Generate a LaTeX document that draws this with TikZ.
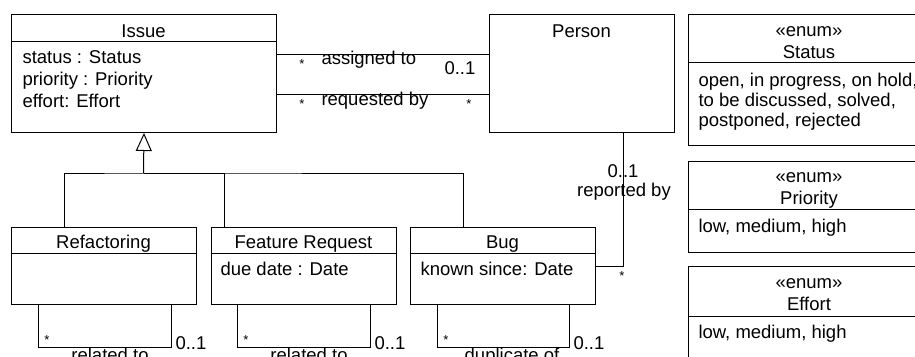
\documentclass[tikz,border=0pt]{standalone}
\usepackage{fontspec}
\setmainfont{Liberation Sans}
\usetikzlibrary{arrows.meta}
\usetikzlibrary{positioning}
\tikzset{
	cls/.style={draw, rectangle, anchor=north west, inner sep=0pt},
	ttl/.style={anchor=base, inner sep=0pt},
	attr/.style={anchor=base west, inner sep=0pt},
	mult/.style={inner sep=0pt, font=\fontsize{13pt}{13pt}\selectfont},
	gen/.style={-{Triangle[open, length=18pt, width=16pt]}}
}

\begin{document}
\begin{tikzpicture}[x=1pt, y=-1pt, line width=1pt, font=\fontsize{18.5pt}{21pt}\selectfont]
		\useasboundingbox (0,0) rectangle (915,356);
		\clip (0,0) rectangle (915,356);
		% classes
		\node[cls, minimum width=265pt, minimum height=118pt] (issue) at (11,14) {};
		\draw (issue.north west) ++(0,27) -- ++(265,0);
		\node[ttl] (issue-t) at (143.5,37) {Issue};
		\node[attr] (issue-a1) at (22,63) {status : Status};
		\node[attr] (issue-a2) at (22,85) {priority : Priority};
		\node[attr] (issue-a3) at (22,107) {effort: Effort};
		\node[cls, minimum width=185pt, minimum height=118pt] (person) at (489,14) {};
		\node[ttl] (person-t) at (581.5,37) {Person};
		\node[cls, minimum width=185pt, minimum height=77pt] (refac) at (11,227) {};
		\draw (refac.north west) ++(0,26) -- ++(185,0);
		\node[ttl] (refac-t) at (103.5,248) {Refactoring};
		\node[cls, minimum width=185pt, minimum height=77pt] (feat) at (211,227) {};
		\draw (feat.north west) ++(0,26) -- ++(185,0);
		\node[ttl] (feat-t) at (303.5,248) {Feature Request};
		\node[attr] (feat-a1) at (220,275) {due date : Date};
		\node[cls, minimum width=185pt, minimum height=77pt] (bug) at (410,227) {};
		\draw (bug.north west) ++(0,26) -- ++(185,0);
		\node[ttl] (bug-t) at (502.5,248) {Bug};
		\node[attr] (bug-a1) at (420,275) {known since: Date};
		% enums
		\node[cls, minimum width=242pt, minimum height=131pt] (status) at (688,14) {};
		\draw (status.north west) ++(0,48) -- ++(242,0);
		\node[ttl] (status-s) at (809,36) {«enum»};
		\node[ttl] (status-t) at (809,58) {Status};
		\node[attr] (status-v1) at (698,86) {open, in progress, on hold,};
		\node[attr] (status-v2) at (698,106) {to be discussed, solved,};
		\node[attr] (status-v3) at (698,126) {postponed, rejected};
		\node[cls, minimum width=242pt, minimum height=91pt] (prio) at (688,161) {};
		\draw (prio.north west) ++(0,48) -- ++(242,0);
		\node[ttl] (prio-s) at (809,182) {«enum»};
		\node[ttl] (prio-t) at (809,204) {Priority};
		\node[attr] (prio-v1) at (698,232) {low, medium, high};
		\node[cls, minimum width=242pt, minimum height=100pt] (effort) at (688,266) {};
		\draw (effort.north west) ++(0,50) -- ++(242,0);
		\node[ttl] (effort-s) at (809,288) {«enum»};
		\node[ttl] (effort-t) at (809,310) {Effort};
		\node[attr] (effort-v1) at (698,338) {low, medium, high};
		% generalization
		\coordinate (genjoin) at (143.5,173);
		\draw[gen] (genjoin) -- (issue.south);
		\draw ([xshift=-39.5pt]refac.north) |- (genjoin) -| ([xshift=-39.5pt]bug.north);
		\draw ([xshift=-79.5pt]feat.north) |- (genjoin);
		% associations
		\draw ([yshift=19pt]issue.east) -- ([yshift=19pt]person.west);
		\node[mult] (asg-m1) at (302,64) {*};
		\node[attr] (asg-l) at (321,64) {assigned to};
		\node[attr] (asg-m2) at (444,74) {0..1};
		\draw ([yshift=-21pt]issue.east) -- ([yshift=-21pt]person.west);
		\node[mult] (req-m1) at (302,104) {*};
		\node[attr] (req-l) at (321,105) {requested by};
		\node[mult] (req-m2) at (469,104) {*};
		\draw ([xshift=41pt]person.south) |- (bug.east);
		\node[ttl] (rep-m1) at (623,177) {0..1};
		\node[ttl] (rep-l) at (624,196) {reported by};
		\node[mult] (rep-m2) at (622,276) {*};
		% self associations
		\draw ([xshift=-65.5pt]refac.south) -- ++(0,42) -| ([xshift=67.5pt]refac.south);
		\node[mult] (rel1-m1) at (47,340) {*};
		\node[attr] (rel1-m2) at (175,349) {0..1};
		\node[ttl] (rel1-l) at (110,361) {related to};
		\draw ([xshift=-66.5pt]feat.south) -- ++(0,42) -| ([xshift=66.5pt]feat.south);
		\node[mult] (rel2-m1) at (246,340) {*};
		\node[attr] (rel2-m2) at (374,349) {0..1};
		\node[ttl] (rel2-l) at (309,361) {related to};
		\draw ([xshift=-65.5pt]bug.south) -- ++(0,42) -| ([xshift=66.5pt]bug.south);
		\node[mult] (dup-m1) at (446,340) {*};
		\node[attr] (dup-m2) at (573,349) {0..1};
		\node[ttl] (dup-l) at (512,361) {duplicate of};
\end{tikzpicture}
\end{document}
